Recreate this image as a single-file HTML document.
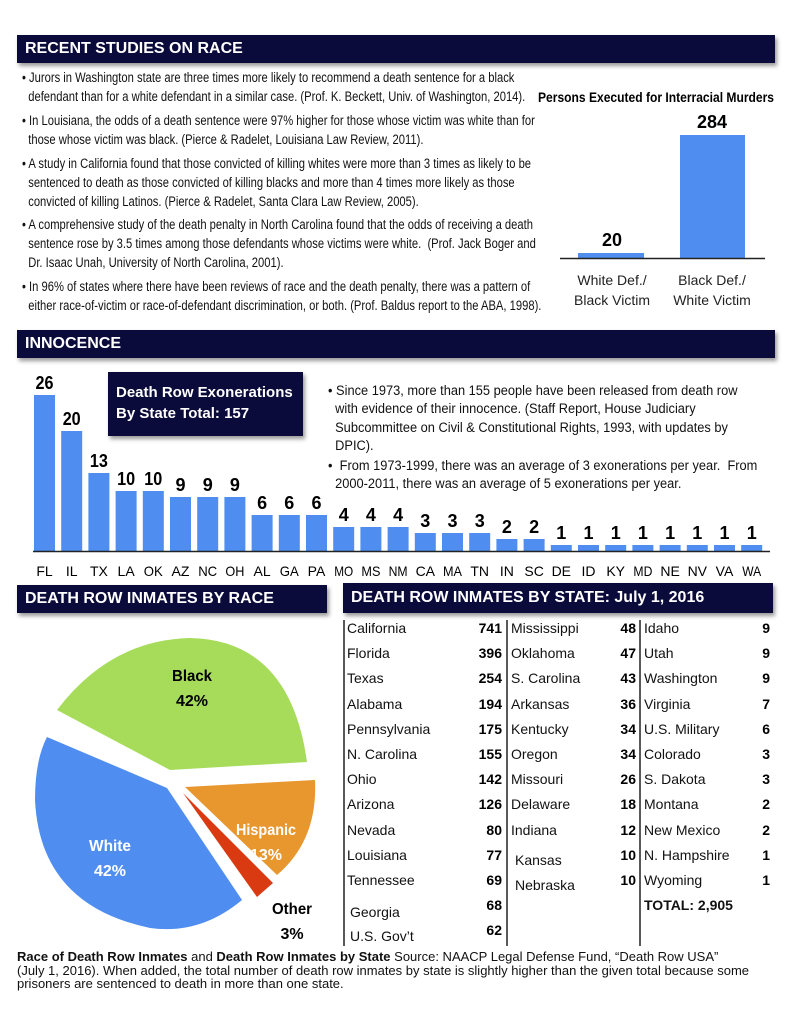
<!DOCTYPE html><html><head><style>
body{margin:0;width:791px;height:1024px;background:#fff;position:relative;font-family:"Liberation Sans",sans-serif;overflow:hidden}
.h{position:absolute;background:#0b0b3b;color:#fff;font-weight:bold;font-size:16px;box-shadow:2px 3px 4px #999;box-sizing:border-box;padding-left:8px;line-height:28px}
.t{position:absolute;font-size:13.5px;color:#111;white-space:nowrap;line-height:19px;transform:scaleX(0.83);transform-origin:0 0}
.t2{position:absolute;font-size:13.5px;color:#111;white-space:nowrap;line-height:18.3px;transform:scaleX(0.95);transform-origin:0 0}
.row{position:absolute;font-size:14px;color:#111;white-space:nowrap}
.n{position:absolute;font-size:14px;font-weight:bold;text-align:right;width:60px}
</style></head><body>
<div class="h" style="left:17px;top:35px;width:758px;height:28px">RECENT STUDIES ON RACE</div>
<div class="t" style="left:22px;top:68px">• Jurors in Washington state are three times more likely to recommend a death sentence for a black<br>&nbsp;&nbsp;defendant than for a white defendant in a similar case. (Prof. K. Beckett, Univ. of Washington, 2014).</div>
<div class="t" style="left:22px;top:111px">• In Louisiana, the odds of a death sentence were 97% higher for those whose victim was white than for<br>&nbsp;&nbsp;those whose victim was black. (Pierce &amp; Radelet, Louisiana Law Review, 2011).</div>
<div class="t" style="left:22px;top:154px">• A study in California found that those convicted of killing whites were more than 3 times as likely to be<br>&nbsp;&nbsp;sentenced to death as those convicted of killing blacks and more than 4 times more likely as those<br>&nbsp;&nbsp;convicted of killing Latinos. (Pierce &amp; Radelet, Santa Clara Law Review, 2005).</div>
<div class="t" style="left:22px;top:215px">• A comprehensive study of the death penalty in North Carolina found that the odds of receiving a death<br>&nbsp;&nbsp;sentence rose by 3.5 times among those defendants whose victims were white.&nbsp; (Prof. Jack Boger and<br>&nbsp;&nbsp;Dr. Isaac Unah, University of North Carolina, 2001).</div>
<div class="t" style="left:22px;top:277px">• In 96% of states where there have been reviews of race and the death penalty, there was a pattern of<br>&nbsp;&nbsp;either race-of-victim or race-of-defendant discrimination, or both. (Prof. Baldus report to the ABA, 1998).</div>
<svg style="position:absolute;left:0;top:0" width="791" height="1024">
<g font-family="Liberation Sans, sans-serif">
<text x="538" y="102" font-size="14" font-weight="bold" textLength="236" lengthAdjust="spacingAndGlyphs">Persons Executed for Interracial Murders</text>
<text x="712" y="128" font-size="18" font-weight="bold" text-anchor="middle">284</text>
<rect x="680" y="135" width="65" height="123" fill="#4f8ef0"/>
<text x="612" y="246" font-size="18" font-weight="bold" text-anchor="middle">20</text>
<rect x="578" y="253" width="66" height="5" fill="#4f8ef0"/>
<line x1="560" y1="258.5" x2="765" y2="258.5" stroke="#222" stroke-width="1.5"/>
<g font-size="14" fill="#222" text-anchor="middle">
<text x="612" y="285">White Def./</text><text x="612" y="305">Black Victim</text>
<text x="712" y="285">Black Def./</text><text x="712" y="305">White Victim</text></g>
</g>
<g id="bars"></g>
<line x1="33" y1="551.5" x2="770" y2="551.5" stroke="#222" stroke-width="1.5"/>
<path d="M57,710 Q110,640 190,638 Q290,640 307,762 L170,770 Z" fill="#a6dc5a"/>
<path d="M47,737 L167,788 L242,900 Q200,935 150,928 Q40,905 35,800 Q35,760 47,737 Z" fill="#4f8ef0"/>
<path d="M185,787 L315,780 Q318,840 277,875 Z" fill="#e8962e"/>
<path d="M183,793 L273,883 L257,897 Z" fill="#d93a12"/>
<g font-family="Liberation Sans, sans-serif" font-weight="bold" font-size="16" text-anchor="middle">
<text x="192" y="681" textLength="40" lengthAdjust="spacingAndGlyphs">Black</text><text x="192" y="706">42%</text>
<text x="110" y="851" fill="#fff" textLength="42" lengthAdjust="spacingAndGlyphs">White</text><text x="110" y="876" fill="#fff">42%</text>
<text x="266" y="835" fill="#fff" textLength="60" lengthAdjust="spacingAndGlyphs">Hispanic</text><text x="266" y="860" fill="#fff">13%</text>
<text x="292" y="914" textLength="40" lengthAdjust="spacingAndGlyphs">Other</text><text x="292" y="939">3%</text></g>
<line x1="344" y1="620" x2="344" y2="946" stroke="#222" stroke-width="1.5"/>
<line x1="507" y1="620" x2="507" y2="946" stroke="#222" stroke-width="1.5"/>
<line x1="640" y1="620" x2="640" y2="946" stroke="#222" stroke-width="1.5"/>
</svg>
<div class="h" style="left:17px;top:330px;width:758px;height:28px">INNOCENCE</div>
<div class="h" style="left:108px;top:372px;width:195px;height:64px;line-height:21px;padding:10px 0 0 8px;font-size:15px">Death Row Exonerations<br>By State Total: 157</div>
<div class="t2" style="left:328px;top:382px">• Since 1973, more than 155 people have been released from death row<br>&nbsp;&nbsp;with evidence of their innocence. (Staff Report, House Judiciary<br>&nbsp;&nbsp;Subcommittee on Civil &amp; Constitutional Rights, 1993, with updates by<br>&nbsp;&nbsp;DPIC).</div>
<div class="t2" style="left:328px;top:457px">•&nbsp; From 1973-1999, there was an average of 3 exonerations per year.&nbsp; From<br>&nbsp;&nbsp;2000-2011, there was an average of 5 exonerations per year.</div>
<div class="h" style="left:17px;top:585px;width:310px;height:28px">DEATH ROW INMATES BY RACE</div>
<div class="h" style="left:343px;top:583px;width:430px;height:30px;line-height:30px">DEATH ROW INMATES BY STATE: July 1, 2016</div>
<div id="tbl"></div>
<div style="position:absolute;left:17px;top:950px;width:770px;font-size:13px;line-height:13.5px;color:#111;white-space:nowrap"><b>Race of Death Row Inmates</b> and <b>Death Row Inmates by State</b> Source: NAACP Legal Defense Fund, “Death Row USA”<br>(July 1, 2016). When added, the total number of death row inmates by state is slightly higher than the given total because some<br>prisoners are sentenced to death in more than one state.</div>
<script>
var st="FL IL TX LA OK AZ NC OH AL GA PA MO MS NM CA MA TN IN SC DE ID KY MD NE NV VA WA".split(" ");
var v=[26,20,13,10,10,9,9,9,6,6,6,4,4,4,3,3,3,2,2,1,1,1,1,1,1,1,1];
var s="";
for(var i=0;i<27;i++){var x=34+i*27.2,h=v[i]*6;
s+='<rect x="'+x+'" y="'+(551-h)+'" width="21" height="'+h+'" fill="#4f8ef0"/>';
s+='<text x="'+(x+10.5)+'" y="'+(545-h)+'" font-size="18" font-weight="bold" text-anchor="middle" font-family="Liberation Sans, sans-serif"'+(v[i]>9?' textLength="18" lengthAdjust="spacingAndGlyphs"':'')+'>'+v[i]+'</text>';
s+='<text x="'+(x+10.5)+'" y="576" font-size="14" text-anchor="middle" font-family="Liberation Sans, sans-serif"'+(st[i]=="MO"||st[i]=="MS"||st[i]=="NM"||st[i]=="MA"||st[i]=="MD"||st[i]=="WA"||st[i]=="OK"||st[i]=="OH"||st[i]=="NC"||st[i]=="GA"?' textLength="19" lengthAdjust="spacingAndGlyphs"':'')+'>'+st[i]+'</text>';}
document.getElementById("bars").innerHTML=s;
var c1=[["California",741],["Florida",396],["Texas",254],["Alabama",194],["Pennsylvania",175],["N. Carolina",155],["Ohio",142],["Arizona",126],["Nevada",80],["Louisiana",77],["Tennessee",69]];
var c2=[["Mississippi",48],["Oklahoma",47],["S. Carolina",43],["Arkansas",36],["Kentucky",34],["Oregon",34],["Missouri",26],["Delaware",18],["Indiana",12]];
var c3=[["Idaho",9],["Utah",9],["Washington",9],["Virginia",7],["U.S. Military",6],["Colorado",3],["S. Dakota",3],["Montana",2],["New Mexico",2],["N. Hampshire",1],["Wyoming",1]];
var t="";function add(n,num,x,nx,y){t+='<div class="row" style="left:'+x+'px;top:'+y+'px">'+n+'</div>';if(num!=="")t+='<div class="n" style="left:'+(nx-60)+'px;top:'+y+'px">'+num+'</div>';}
for(var i=0;i<c1.length;i++)add(c1[i][0],c1[i][1],347,502,620+i*25.2);
for(var i=0;i<c2.length;i++)add(c2[i][0],c2[i][1],511,636,620+i*25.2);
for(var i=0;i<c3.length;i++)add(c3[i][0],c3[i][1],644,770,620+i*25.2);
add("Kansas","",515,0,852);add("Nebraska","",515,0,877);
t+='<div class="n" style="left:576px;top:847px">10</div><div class="n" style="left:576px;top:872px">10</div>';
add("Georgia","",350,0,904);add("U.S. Gov’t","",350,0,928);
t+='<div class="n" style="left:442px;top:897px">68</div><div class="n" style="left:442px;top:922px">62</div>';
t+='<div class="row" style="left:644px;top:897px;font-weight:bold">TOTAL: 2,905</div>';
document.getElementById("tbl").innerHTML=t;
</script>
</body></html>
